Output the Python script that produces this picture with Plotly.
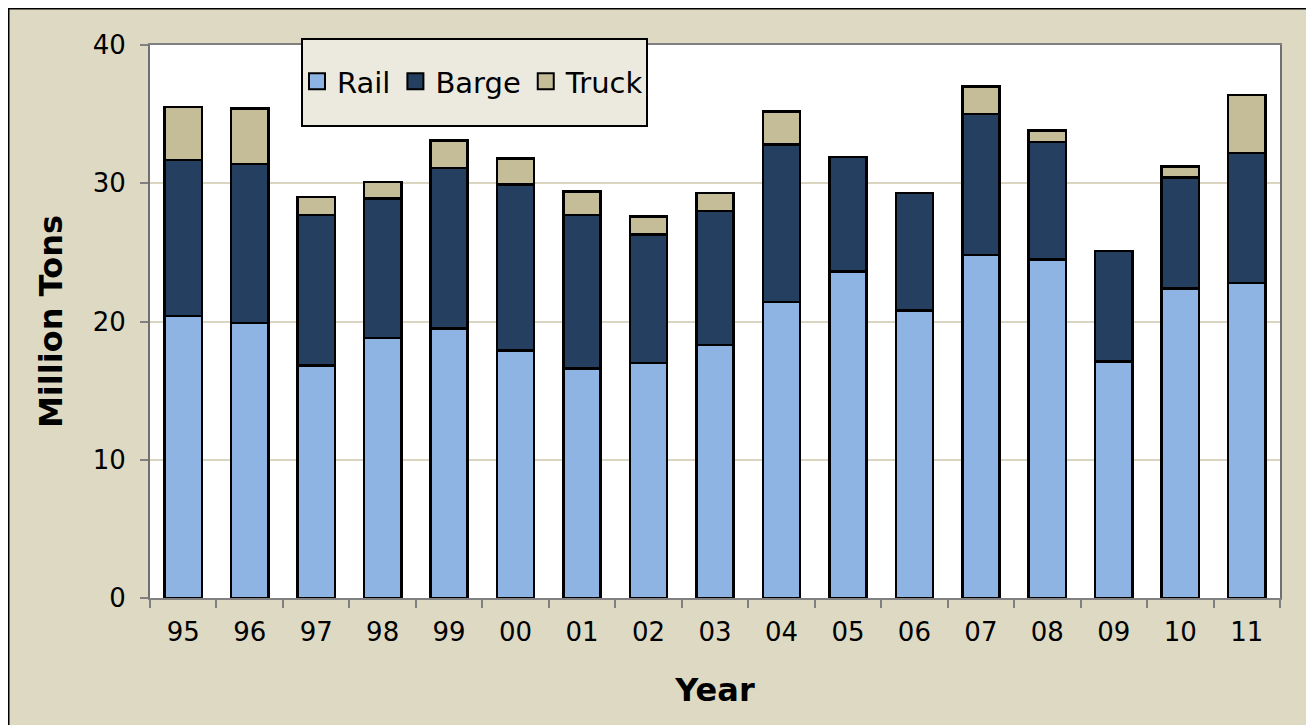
import plotly.graph_objects as go

years = ["95", "96", "97", "98", "99", "00", "01", "02", "03", "04", "05", "06", "07", "08", "09", "10", "11"]
rail = [20.4, 19.9, 16.8, 18.8, 19.5, 17.9, 16.6, 17.0, 18.3, 21.4, 23.6, 20.8, 24.8, 24.5, 17.1, 22.4, 22.8]
barge = [11.3, 11.5, 10.9, 10.1, 11.6, 12.0, 11.1, 9.3, 9.7, 11.4, 8.3, 8.5, 10.2, 8.5, 8.0, 8.0, 9.4]
truck = [3.8, 4.0, 1.3, 1.2, 2.0, 1.9, 1.7, 1.3, 1.3, 2.4, 0.0, 0.0, 2.0, 0.8, 0.0, 0.8, 4.2]
series_names = ["Rail", "Barge", "Truck"]
series_colors = ["#8EB4E3", "#243F60", "#C4BD97"]
y_ticks = [0, 10, 20, 30, 40]

# page body margin shifts the figure by 8px; layout numbers below are in screen pixels
OFF = 8
W, H = 1314, 725
PL, PR, PT, PB = 150, 1280, 45, 598  # plot area, screen px
ML, MT = PL - OFF, PT - OFF
MR = W - (PR - OFF)
MB = H - (PB - OFF)
PW, PH = PR - PL, PB - PT


def px_x(p):
    return (p - PL) / PW


def px_y(p):
    return (PB - p) / PH


FONT = "DejaVu Sans, Verdana, sans-serif"
bar_line = dict(color="black", width=2.5)

fig = go.Figure()
for name, vals, col in zip(series_names, [rail, barge, truck], series_colors):
    fig.add_trace(go.Bar(name=name, x=years, y=vals, marker=dict(color=col, line=bar_line),
                         showlegend=False))
# legend entries with larger square swatches
for name, col in zip(series_names, series_colors):
    fig.add_trace(go.Scatter(name=name, x=[None], y=[None], mode="markers",
                             marker=dict(symbol="square", size=16, color=col,
                                         line=dict(color="black", width=2))))

fig.update_layout(
    width=W, height=H,
    margin=dict(l=ML, r=MR, t=MT, b=MB, pad=0),
    barmode="stack", bargap=0.44,
    paper_bgcolor="#DDD9C3", plot_bgcolor="white",
    font=dict(family=FONT, size=26, color="black"),
    showlegend=True,
    legend=dict(
        orientation="h", x=px_x(297), y=px_y(56), xanchor="left", yanchor="top",
        bgcolor="rgba(0,0,0,0)", borderwidth=0,
        font=dict(family=FONT, size=29, color="black"),
        traceorder="normal", itemsizing="trace",
    ),
    xaxis=dict(
        showline=True, linecolor="#808080", linewidth=2, mirror=True,
        ticks="outside", tickson="boundaries", ticklen=8, tickcolor="#808080", tickwidth=2,
        tickfont=dict(size=26), ticklabelstandoff=10, showgrid=False,
        title=dict(text="<b>Year</b>", font=dict(size=32), standoff=32),
    ),
    yaxis=dict(
        range=[0, 40], tickvals=y_ticks,
        showline=True, linecolor="#707070", linewidth=2, mirror=True,
        ticks="outside", ticklen=8, tickcolor="#808080", tickwidth=2,
        tickfont=dict(size=26), ticklabelstandoff=9,
        showgrid=True, gridcolor="#D9D5C0", gridwidth=1.5, zeroline=False,
        title=dict(text="<b>Million Tons</b>", font=dict(size=32), standoff=21),
    ),
    shapes=[
        # outer frame (left and top edges visible)
        dict(type="rect", xref="paper", yref="paper", x0=px_x(OFF + 0.5), x1=px_x(W + 40),
             y0=px_y(H + 40), y1=px_y(OFF + 0.5),
             fillcolor="rgba(0,0,0,0)", line=dict(color="black", width=2), layer="below"),
        # legend box
        dict(type="rect", xref="paper", yref="paper", x0=px_x(302), x1=px_x(647), y0=px_y(126), y1=px_y(39),
             fillcolor="#ECEADF", line=dict(color="black", width=2), layer="above"),
    ],
)

fig.write_html("out.html")
